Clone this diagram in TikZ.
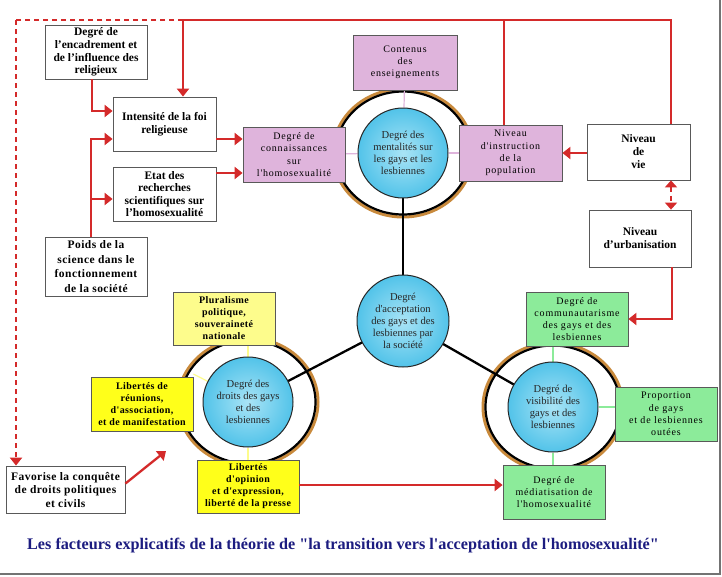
\documentclass[tikz,border=0pt]{standalone}
\usepackage{fontspec}
\setmainfont{Liberation Serif}[Ligatures=TeXOff]
\newfontfamily\spcfam{Liberation Serif}[LetterSpace=8,Ligatures=TeXOff]
\newfontfamily\spcbfam{Liberation Serif}[LetterSpace=4,Ligatures=TeXOff]
\usetikzlibrary{arrows.meta,calc,backgrounds}
\definecolor{redl}{HTML}{D42A2A}
\definecolor{pinkb}{HTML}{DFB4DC}
\definecolor{yelb}{HTML}{FFFF1A}
\definecolor{yell}{HTML}{FDFC8C}
\definecolor{grnb}{HTML}{8CEB9A}
\definecolor{cyin}{HTML}{A9E4F6}
\definecolor{cyout}{HTML}{52C3E9}
\definecolor{ringo}{HTML}{C98A3C}
\definecolor{navyc}{HTML}{1C1C80}
\newcommand\fntW{\bfseries\fontsize{11.5}{13}\selectfont}
\newcommand\fntP{\spcfam\fontsize{10}{12.2}\selectfont}
\newcommand\fntY{\spcbfam\bfseries\fontsize{10}{12}\selectfont}
\newcommand\fntC{\fontsize{10.6}{12}\selectfont}
\pgfdeclarelayer{bgzero}
\pgfsetlayers{bgzero,background,main}
\begin{document}
\begin{tikzpicture}[x=1pt,y=-1pt,
  sz/.style 2 args={minimum width=#1pt, minimum height=#2pt},
  boxbase/.style={draw=black!65, line width=0.8pt, align=center, inner sep=1pt},
  wbox/.style={boxbase, fill=white, font=\fntW},
  pbox/.style={boxbase, fill=pinkb, font=\fntP},
  ybox/.style={boxbase, fill=yelb, font=\fntY},
  lybox/.style={boxbase, fill=yell, font=\fntY},
  gbox/.style={boxbase, fill=grnb, font=\fntP},
  circ/.style={circle, draw=black!85, line width=1pt, minimum size=90pt, inner sep=0pt,
    align=center, font=\fntC, text=black!85, inner color=cyin, outer color=cyout},
  ring/.style={draw=ringo, line width=3pt},
  ringin/.style={draw=black, line width=2.2pt},
  redline/.style={draw=redl, line width=2.3pt},
  arr/.style={redline, -{Triangle[length=8pt,width=12pt]}},
  darr/.style={redline, dashed, dash pattern=on 5pt off 4pt},
  blk/.style={draw=black, line width=2.3pt},
  thinp/.style={draw=pinkb, line width=1.2pt},
  thiny/.style={draw=yell, line width=1.2pt},
  thing/.style={draw=grnb, line width=1.2pt},
  frame/.style={draw=black!55, line width=2pt}
]
\useasboundingbox (0,0) rectangle (722,576);
\begin{pgfonlayer}{bgzero}
  \fill[white] (0,0) rectangle (722,576);
  \draw[frame] (720,0) -- (720,574) -- (0,574);
\end{pgfonlayer}

% circles
\node[circ] (ment) at (403,153) {Degré des\\mentalités sur\\les gays et les\\lesbiennes};
\node[circ, minimum size=92pt] (acc) at (403,321) {Degré\\d'acceptation\\des gays et des\\lesbiennes par\\la société};
\node[circ] (droits) at (248,402) {Degré des\\droits des gays\\et des\\lesbiennes};
\node[circ] (vis) at (553,407) {Degré de\\visibilité des\\gays et des\\lesbiennes};

% boxes
\node[wbox, sz={102}{54}, font=\bfseries\fontsize{11.5}{12.6}\selectfont] (enc) at (96,52) {Degré de\\l’encadrement et\\de l’influence des\\religieux};
\node[wbox, sz={103}{54}] (foi) at (164.5,124) {Intensité de la foi\\religieuse};
\node[wbox, sz={103}{54}, font=\bfseries\fontsize{11.5}{12.6}\selectfont] (etat) at (164.5,194) {Etat des\\recherches\\scientifiques sur\\l’homosexualité};
\node[wbox, sz={102}{59}, font=\spcbfam\bfseries\fontsize{11.5}{14.5}\selectfont] (poids) at (96,266.5) {Poids de la\\science dans le\\fonctionnement\\de la société};
\node[pbox, sz={102}{55}] (conn) at (294,154.5) {Degré de\\connaissances\\sur\\l'homosexualité};
\node[pbox, sz={104}{55}] (cont) at (405,62.5) {Contenus\\des\\enseignements};
\node[pbox, sz={103}{56}] (instr) at (510.5,153) {Niveau\\d'instruction\\de la\\population};
\node[wbox, sz={103}{56}] (vie) at (638.5,152) {Niveau\\de\\vie};
\node[wbox, sz={102}{57}] (urb) at (640,238.5) {Niveau\\d’urbanisation};
\node[lybox, sz={102}{53}] (plur) at (224,318.5) {Pluralisme\\politique,\\souveraineté\\nationale};
\node[ybox, sz={102}{54}] (reun) at (142,404) {Libertés de\\réunions,\\d'association,\\et de manifestation};
\node[ybox, sz={102}{53}] (opin) at (248,486.5) {Libertés\\d'opinion\\et d'expression,\\liberté de la presse};
\node[wbox, sz={119}{47}, font=\spcbfam\bfseries\fontsize{11.5}{13.5}\selectfont] (fav) at (65.5,489.5) {Favorise la conquête\\de droits politiques\\et civils};
\node[gbox, sz={102}{54}] (comm) at (577,319) {Degré de\\communautarisme\\des gays et des\\lesbiennes};
\node[gbox, sz={102}{54}] (prop) at (666,414) {Proportion\\de gays\\et de lesbiennes\\outées};
\node[gbox, sz={102}{54}] (med) at (554,492) {Degré de\\médiatisation de\\l'homosexualité};

% caption
\node[font=\bfseries\fontsize{16.2}{19}\selectfont, text=navyc, inner sep=0pt] (cap) at (343,546)
  {Les facteurs explicatifs de la théorie de "la transition vers l'acceptation de l'homosexualité"};

% rings, thin links and black links behind
\begin{pgfonlayer}{background}
  \foreach \c in {ment,droits,vis}{
    \draw[ring] (\c.center) ellipse [x radius=70pt, y radius=64pt];
    \draw[ringin] (\c.center) ellipse [x radius=67.5pt, y radius=61.5pt];
  }
  \draw[thinp] (ment) -- (cont);
  \draw[thinp] (ment) -- (conn);
  \draw[thinp] (ment) -- (instr);
  \draw[thiny] (droits) -- (plur.south -| droits);
  \draw[thiny] (droits) -- (reun.east |- 0,374);
  \draw[thiny] (droits) -- (opin.north -| droits);
  \draw[thing] (vis) -- (comm.south -| vis);
  \draw[thing] (vis) -- (prop.west |- vis);
  \draw[thing] (vis) -- (med.north -| vis);
  \draw[blk] (acc.center) -- (ment.center);
  \draw[blk] (acc.center) -- (droits.center);
  \draw[blk] (acc.center) -- (vis.center);
\end{pgfonlayer}

% red connectors
\coordinate (tl) at (16,20);
\coordinate (tj) at (183,20);
\coordinate (tm) at (504,20);
\coordinate (tr) at (671,20);
\coordinate (favend) at (166,451);
\draw[darr] (tj) -- (tl);
\draw[darr, -{Triangle[length=8pt,width=12pt]}] (tl) -- (fav.north -| tl);
\draw[redline] (tj) -- (tr) -- (vie.north -| tr);
\draw[redline] (tm) -- (instr.north -| tm);
\draw[arr] (tj) -- (foi.north -| tj);
\draw[arr] (enc.south -| 92,0) |- ([yshift=13pt]foi.west);
\draw[arr] (poids.north -| 91,0) |- ([yshift=-15pt]foi.west);
\draw[arr] (91,199) -- (etat.west |- 0,199);
\draw[arr] ([yshift=-15pt]foi.east) -- ([yshift=-15pt]foi.east -| conn.west);
\draw[arr] ([yshift=21pt]etat.east) -- ([yshift=21pt]etat.east -| conn.west);
\draw[arr] (vie.west |- instr.east) -- (instr.east);
\draw[darr, {Triangle[length=7pt,width=12pt]}-{Triangle[length=7pt,width=12pt]}] (vie.south -| tr) -- (urb.north -| tr);
\draw[arr] (urb.south -| 672,0) |- (comm.east);
\draw[arr] ([yshift=6pt]fav.east) -- (favend);
\draw[arr] ([yshift=1.5pt]opin.east) -- ([yshift=1.5pt]opin.east -| med.west);
\end{tikzpicture}
\end{document}
